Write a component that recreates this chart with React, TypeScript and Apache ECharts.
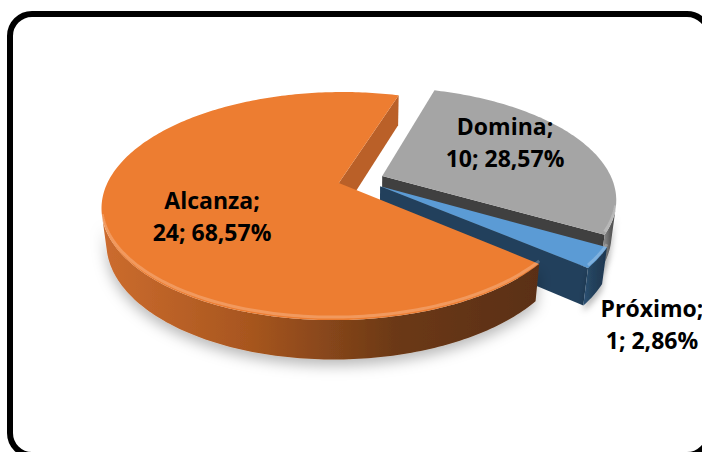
import React, { useEffect, useRef } from 'react';
import * as echarts from 'echarts';

// ---- data ----
const CATEGORIES = ['Alcanza', 'Domina', 'Próximo'];
const VALUES = [24, 10, 1];

// ---- style / layout ----
const TOP_COLORS = ['#ED7D31', '#A5A5A5', '#5B9BD5'];
const CUT_COLORS = ['#BA6028', '#404040', '#22405C'];
const WALL_STOPS = [
  ['#CC6C2E', '#A8561F', '#6C3916', '#5A2F12'],
  ['#A0A0A0', '#808080', '#5C5C5C', '#484848'],
  ['#2C5275', '#25445F', '#213C56', '#1E3750'],
];
const LABEL_POS = [
  [212, 216],
  [505, 142],
  [652, 324],
];

const CX = 361, CY = 180, FOCAL = 1015, DIST = 4.41;
const SIN_T = 0.47, COS_T = 0.883;
const THICK = 0.17, EXPLODE = 0.1, START_DEG = 130;
const CAM_Y = -DIST * COS_T;

const rad = (d: number) => (d * Math.PI) / 180;
function proj(X: number, Y: number, Z: number): number[] {
  const depth = DIST + Y * COS_T - Z * SIN_T;
  return [CX + (FOCAL * X) / depth, CY - (FOCAL * (Y * SIN_T + Z * COS_T)) / depth];
}

type Slice = {
  s: number; e: number; ox: number; oy: number;
  top: number[][]; walls: any[]; minY: number;
};

function buildSlices(): Slice[] {
  const total = VALUES.reduce((a, b) => a + b, 0);
  let acc = 0;
  return VALUES.map((v, i) => {
    const s = START_DEG + (360 * acc) / total;
    const e = s + (360 * v) / total;
    acc += v;
    const mid = rad((s + e) / 2);
    const ox = EXPLODE * Math.sin(mid);
    const oy = EXPLODE * Math.cos(mid);
    const steps = Math.max(4, Math.ceil(e - s));
    const angs: number[] = [];
    for (let k = 0; k <= steps; k++) angs.push(s + ((e - s) * k) / steps);
    const top = [proj(ox, oy, 0)].concat(
      angs.map((a) => proj(ox + Math.sin(rad(a)), oy + Math.cos(rad(a)), 0))
    );
    let minY = oy;
    angs.forEach((a) => { minY = Math.min(minY, oy + Math.cos(rad(a))); });

    const walls: any[] = [];
    const faceVisible = (nAng: number) => {
      const nx = Math.sin(rad(nAng)), ny = Math.cos(rad(nAng));
      return nx * -ox + ny * (CAM_Y - oy) > 0;
    };
    const facePoly = (a: number) => {
      const rx = ox + Math.sin(rad(a)), ry = oy + Math.cos(rad(a));
      return [proj(ox, oy, 0), proj(rx, ry, 0), proj(rx, ry, -THICK), proj(ox, oy, -THICK)];
    };
    if (faceVisible(s - 90)) walls.push({ kind: 'cut', points: facePoly(s) });
    if (faceVisible(e + 90)) walls.push({ kind: 'cut', points: facePoly(e) });
    const vis = angs.filter((a) => {
      const t = rad(a);
      return -(Math.sin(t) * ox + Math.cos(t) * oy) - 1 + Math.cos(t) * CAM_Y > 0;
    });
    if (vis.length > 1) {
      const up = vis.map((a) => proj(ox + Math.sin(rad(a)), oy + Math.cos(rad(a)), 0));
      const dn = vis.map((a) => proj(ox + Math.sin(rad(a)), oy + Math.cos(rad(a)), -THICK)).reverse();
      walls.push({ kind: 'outer', points: up.concat(dn), rim: up });
    }
    return { s, e, ox, oy, top, walls, minY };
  });
}

const SLICES = buildSlices();
const DRAW_ORDER = SLICES.map((_, i) => i).sort((a, b) => SLICES[b].minY - SLICES[a].minY);

function pctText(v: number) {
  const total = VALUES.reduce((a, b) => a + b, 0);
  return ((v / total) * 100).toFixed(2).replace('.', ',') + '%';
}

export default function App() {
  const ref = useRef<HTMLDivElement>(null);
  useEffect(() => {
    if (!ref.current) return;
    const chart = echarts.init(ref.current, undefined, { renderer: 'svg' });
    const grad = (stops: string[]) =>
      new echarts.graphic.LinearGradient(0, 0, 1, 0, stops.map((c, k) => ({ offset: k / (stops.length - 1), color: c })));

    chart.setOption({
      animation: false,
      backgroundColor: '#ffffff',
      series: [
        {
          type: 'custom',
          coordinateSystem: 'none',
          silent: true,
          z: 2,
          data: DRAW_ORDER.map((i) => [i]),
          renderItem: (params: any, api: any) => {
            const i = api.value(0);
            const sl = SLICES[i];
            const children = sl.walls.map((w: any) =>
              w.kind === 'cut'
                ? { type: 'polygon', shape: { points: w.points }, style: { fill: CUT_COLORS[i] } }
                : {
                    type: 'polygon',
                    shape: { points: w.points },
                    style: {
                      fill: grad(WALL_STOPS[i]),
                      shadowBlur: i === 0 ? 14 : 6,
                      shadowColor: 'rgba(0,0,0,0.28)',
                      shadowOffsetY: 6,
                    },
                  }
            );
            return { type: 'group', children };
          },
        },
        {
          type: 'custom',
          coordinateSystem: 'none',
          silent: true,
          z: 3,
          data: VALUES.map((v, i) => [i, v]),
          renderItem: (params: any, api: any) => {
            const i = api.value(0);
            const sl = SLICES[i];
            const children: any[] = [
              { type: 'polygon', shape: { points: sl.top }, style: { fill: TOP_COLORS[i] } },
            ];
            const outer = sl.walls.find((w: any) => w.kind === 'outer');
            if (outer) {
              children.push({
                type: 'polyline',
                shape: { points: outer.rim.map((p: number[]) => [p[0], p[1] - 3]) },
                style: { stroke: 'rgba(255,255,255,0.22)', lineWidth: 3, fill: null },
              });
            }
            return { type: 'group', children };
          },
        },
        {
          type: 'custom',
          coordinateSystem: 'none',
          silent: true,
          z: 4,
          data: VALUES.map((v, i) => [i, v]),
          renderItem: (params: any, api: any) => {
            const i = api.value(0);
            const v = api.value(1);
            return {
              type: 'text',
              style: {
                text: CATEGORIES[i] + ';\n' + v + '; ' + pctText(v),
                x: LABEL_POS[i][0],
                y: LABEL_POS[i][1],
                align: 'center',
                verticalAlign: 'middle',
                textAlign: 'center',
                textVerticalAlign: 'middle',
                fontFamily: '"Open Sans", "Noto Sans", sans-serif',
                fontWeight: 'bold',
                fontSize: 23,
                lineHeight: 32,
                fill: '#000000',
              },
            };
          },
        },
      ],
      graphic: [
        {
          type: 'rect',
          z: 100,
          shape: { x: 10, y: 14, width: 699, height: 441, r: 22 },
          style: { fill: 'none', stroke: '#000000', lineWidth: 6 },
        },
      ],
    });
    return () => chart.dispose();
  }, []);
  return <div ref={ref} style={{ position: 'fixed', left: 0, top: 0, width: 702, height: 452 }} />;
}
